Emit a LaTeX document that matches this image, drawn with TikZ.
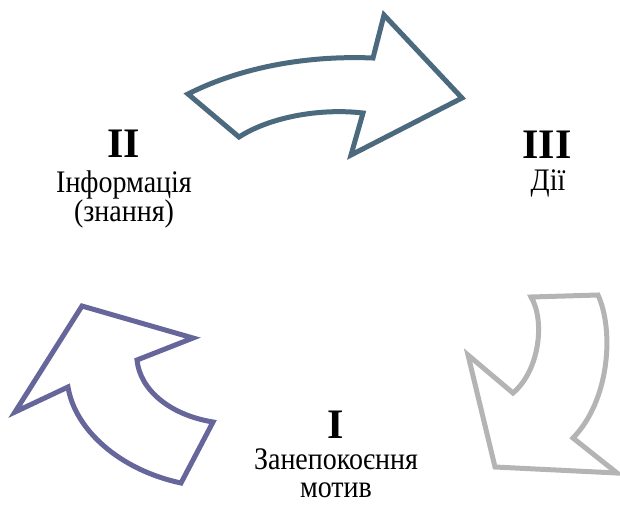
\documentclass[tikz,border=0pt]{standalone}
\usepackage{graphicx}
\usepackage{fontspec}
\setmainfont{Liberation Serif}
\definecolor{topc}{RGB}{76,106,126}
\definecolor{leftc}{RGB}{102,102,154}
\definecolor{rightc}{RGB}{180,180,180}
\newcommand{\tallt}[1]{\scalebox{1}[1.12]{#1}}
\begin{document}
\begin{tikzpicture}[x=1pt,y=-1pt,
  arrowshape/.style={line width=5pt,line join=miter,fill=white},
  numlabel/.style={font=\fontsize{42}{42}\selectfont\bfseries,anchor=base,inner sep=0pt},
  txtlabel/.style={font=\fontsize{28}{30}\selectfont,anchor=base,inner sep=0pt}]
\useasboundingbox (0,0) rectangle (620,504);
% top arrow
\draw[arrowshape,draw=topc] (188,94) .. controls (235,70) and (300,55) .. (373,58)
  -- (384,15) -- (462,98) -- (351,155) -- (363,113)
  .. controls (320,108) and (270,117) .. (239,137) -- cycle;
% left arrow
\draw[arrowshape,draw=leftc] (15,412) -- (82,306) -- (193,338) -- (137,360)
  .. controls (140,390) and (170,415) .. (213,422)
  -- (181,483)
  .. controls (120,470) and (75,430) .. (68,387) -- cycle;
% right arrow
\draw[arrowshape,draw=rightc] (531,297) -- (598,295)
  .. controls (614,330) and (610,400) .. (573,438)
  -- (617,473) -- (495,467) -- (468,355) -- (513,393)
  .. controls (540,370) and (545,320) .. (531,297) -- cycle;
% labels
\node[numlabel] (n2) at (124,157) {II};
\node[txtlabel] (t2a) at (124,192) {\tallt{Інформація}};
\node[txtlabel] (t2b) at (124,221) {\tallt{(знання)}};
\node[numlabel] (n3) at (547,158) {III};
\node[txtlabel] (t3) at (548,190) {\tallt{Дії}};
\node[numlabel] (n1) at (336,438) {I};
\node[txtlabel] (t1a) at (336,469) {\tallt{Занепокоєння}};
\node[txtlabel] (t1b) at (336,497) {\tallt{мотив}};
\end{tikzpicture}
\end{document}
